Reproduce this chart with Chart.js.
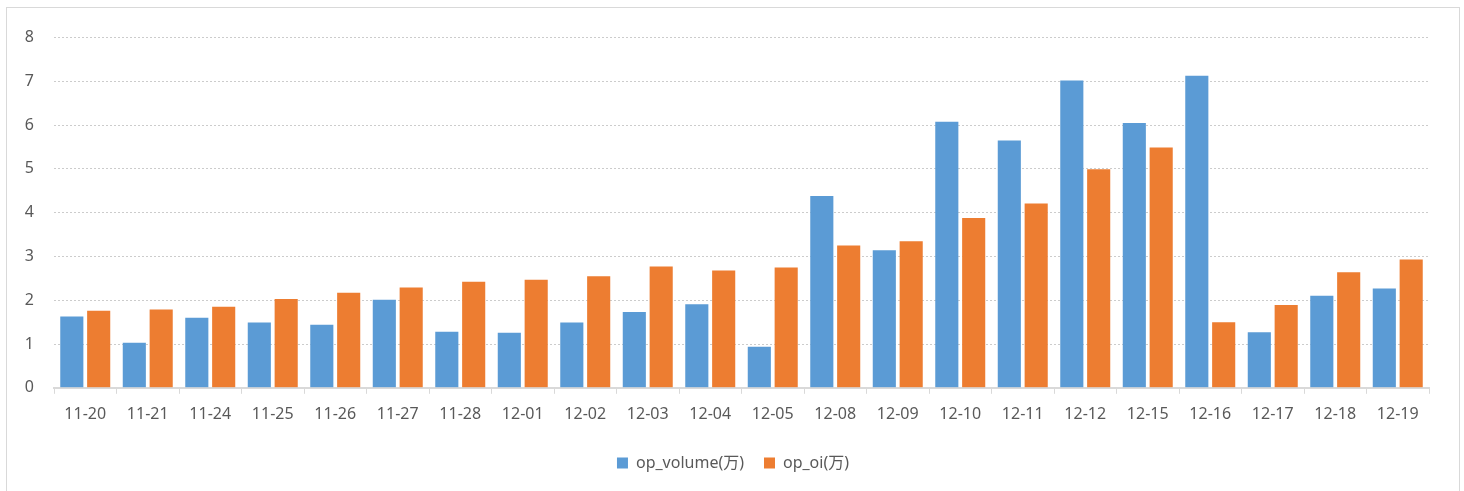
<!DOCTYPE html>
<html>
<head>
<meta charset="utf-8">
<script src="https://cdn.jsdelivr.net/npm/chart.js@4.4.1/dist/chart.umd.min.js"></script>
<style>
  html, body { margin: 0; padding: 0; background: #ffffff; }
  #box { position: absolute; left: 6px; top: 7px; width: 1454px; height: 486px; border: 1px solid #d9d9d9; box-sizing: border-box; background: #fff; }
  #c { position: absolute; left: 0; top: 0; }
</style>
</head>
<body>
<div id="box"><canvas id="c" width="1452" height="484"></canvas></div>
<script>
const categories = ["11-20","11-21","11-24","11-25","11-26","11-27","11-28","12-01","12-02","12-03","12-04","12-05","12-08","12-09","12-10","12-11","12-12","12-15","12-16","12-17","12-18","12-19"];
const opVolume = [1.63,1.03,1.60,1.49,1.44,2.01,1.28,1.26,1.49,1.73,1.91,0.94,4.38,3.14,6.08,5.65,7.02,6.05,7.13,1.27,2.10,2.27];
const opOi = [1.76,1.79,1.85,2.03,2.17,2.29,2.42,2.47,2.55,2.77,2.68,2.75,3.25,3.35,3.88,4.21,4.99,5.49,1.50,1.89,2.64,2.93];
const yTicks = [0,1,2,3,4,5,6,7,8];

const FONT = "'Noto Sans', 'Noto Sans CJK SC', sans-serif";
const TXT = '#595959';

new Chart(document.getElementById('c'), {
  type: 'bar',
  data: {
    labels: categories,
    datasets: [
      { label: 'op_volume(万)', data: opVolume, backgroundColor: '#5b9bd5', borderWidth: 0,
        categoryPercentage: 0.86, barPercentage: 0.86 },
      { label: 'op_oi(万)', data: opOi, backgroundColor: '#ed7d31', borderWidth: 0,
        categoryPercentage: 0.86, barPercentage: 0.86 }
    ]
  },
  options: {
    responsive: false,
    animation: false,
    layout: { padding: { left: 0, right: 0, top: 29, bottom: 11 } },
    plugins: {
      tooltip: { enabled: false },
      legend: {
        position: 'bottom',
        labels: {
          color: TXT, font: { family: FONT, size: 16 },
          boxWidth: 11, boxHeight: 11, padding: 20
        }
      }
    },
    scales: {
      x: {
        grid: { offset: true, drawOnChartArea: false, drawTicks: true, tickLength: 6, color: '#d9d9d9', lineWidth: 1 },
        border: { display: true, color: '#d9d9d9', width: 2 },
        ticks: { color: TXT, font: { family: FONT, size: 16 }, padding: 11, maxRotation: 0, autoSkip: false }
      },
      y: {
        position: 'left',
        min: 0, max: 8,
        afterFit: s => { s.width = 47; },
        afterBuildTicks: s => { s.ticks = yTicks.map(v => ({ value: v })); },
        grid: { drawTicks: false, color: '#cccccc', lineWidth: 1 },
        border: { display: false, dash: [2, 2] },
        ticks: { color: TXT, font: { family: FONT, size: 16 }, padding: 20 }
      },
      yRight: {
        position: 'right',
        min: 0, max: 8,
        afterFit: s => { s.width = 30; },
        grid: { display: false },
        border: { display: false },
        ticks: { display: false }
      }
    }
  }
});
</script>
</body>
</html>
